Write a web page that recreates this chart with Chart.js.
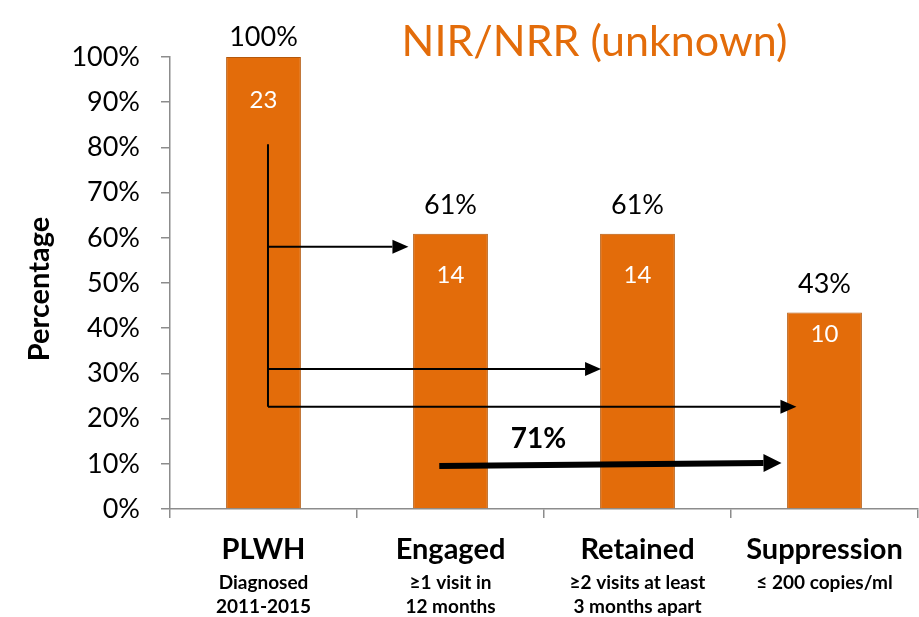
<!DOCTYPE html>
<html>
<head>
<meta charset="utf-8">
<script src="https://cdn.jsdelivr.net/npm/chart.js@4.4.1/dist/chart.umd.min.js"></script>
<style>
  html, body { margin: 0; padding: 0; background: #fff; }
  #wrap { width: 919px; height: 617px; }
</style>
</head>
<body>
<div id="wrap"><canvas id="myChart" width="919" height="617"></canvas></div>
<script>
// Chart data
const categories = ["PLWH", "Engaged", "Retained", "Suppression"];
const subLabels = [
  ["Diagnosed", "2011-2015"],
  ["\u22651 visit in", "12 months"],
  ["\u22652 visits at least", "3 months apart"],
  ["\u2264 200 copies/ml"]
];
const percentages = [100, 60.9, 60.9, 43.5];
const pctLabels = ["100%", "61%", "61%", "43%"];
const counts = [23, 14, 14, 10];
const yTicks = [0, 10, 20, 30, 40, 50, 60, 70, 80, 90, 100];
const chartTitle = "NIR/NRR (unknown)";
const overallLabel = "71%";

const orange = "#E36C0A";
const axisGray = "#8C8C8C";
const fontFam = "Lato, 'Liberation Sans', sans-serif";

// Arrows in data units (x: category index, y: percent)
const bracket = { x: 0.024, top: 80.7, bottom: 22.6 };
const thinArrows = [
  { y: 58.0, to: 0.775 },
  { y: 31.0, to: 1.805 },
  { y: 22.6, to: 2.85 }
];
const boldArrow = { x1: 0.94, y1: 9.5, x2: 2.77, y2: 10.2 };
// offset of the white count label below each bar top
const countOffsets = [43, 42, 42, 22];

function arrow(ctx, x1, y1, x2, y2, lw, hl, hw) {
  const ang = Math.atan2(y2 - y1, x2 - x1);
  const bx = x2 - hl * Math.cos(ang), by = y2 - hl * Math.sin(ang);
  ctx.beginPath();
  ctx.lineWidth = lw;
  ctx.moveTo(x1, y1);
  ctx.lineTo(bx, by);
  ctx.stroke();
  ctx.beginPath();
  ctx.moveTo(x2, y2);
  ctx.lineTo(bx + hw / 2 * Math.sin(ang), by - hw / 2 * Math.cos(ang));
  ctx.lineTo(bx - hw / 2 * Math.sin(ang), by + hw / 2 * Math.cos(ang));
  ctx.closePath();
  ctx.fill();
}

const overlay = {
  id: "overlay",
  afterDatasetsDraw(chart) {
    const ctx = chart.ctx;
    const xs = chart.scales.x, ys = chart.scales.y;
    const meta = chart.getDatasetMeta(0);
    ctx.save();
    ctx.textAlign = "center";
    ctx.textBaseline = "middle";

    // value labels
    meta.data.forEach((bar, i) => {
      ctx.fillStyle = "#000";
      ctx.font = "27px " + fontFam;
      ctx.fillText(pctLabels[i], bar.x, Math.max(bar.y - 28, 37));
      ctx.fillStyle = "#fff";
      ctx.font = "24px " + fontFam;
      ctx.fillText(String(counts[i]), bar.x, bar.y + countOffsets[i]);
    });

    // category labels
    categories.forEach((c, i) => {
      const x = xs.getPixelForValue(i);
      ctx.fillStyle = "#000";
      ctx.font = "bold 29px " + fontFam;
      ctx.fillText(c, x, chart.chartArea.bottom + 41);
      ctx.font = "bold 19px " + fontFam;
      subLabels[i].forEach((s, j) => {
        ctx.fillText(s, x, chart.chartArea.bottom + 74 + j * 24);
      });
    });

    // title
    ctx.fillStyle = orange;
    ctx.font = "43px " + fontFam;
    ctx.fillText(chartTitle, xs.getPixelForValue(1.77), 42);

    // y axis title
    ctx.save();
    ctx.translate(40, 289);
    ctx.rotate(-Math.PI / 2);
    ctx.fillStyle = "#000";
    ctx.font = "bold 29px " + fontFam;
    ctx.fillText("Percentage", 0, 0);
    ctx.restore();

    // arrows
    ctx.strokeStyle = "#000";
    ctx.fillStyle = "#000";
    const bx = xs.getPixelForValue(bracket.x);
    ctx.lineWidth = 2;
    ctx.beginPath();
    ctx.moveTo(bx, ys.getPixelForValue(bracket.top));
    ctx.lineTo(bx, ys.getPixelForValue(bracket.bottom));
    ctx.stroke();
    thinArrows.forEach(a => {
      const y = ys.getPixelForValue(a.y);
      arrow(ctx, bx, y, xs.getPixelForValue(a.to), y, 2, 16, 14);
    });
    arrow(ctx,
      xs.getPixelForValue(boldArrow.x1), ys.getPixelForValue(boldArrow.y1),
      xs.getPixelForValue(boldArrow.x2), ys.getPixelForValue(boldArrow.y2),
      6, 18, 18);
    ctx.font = "bold 28px " + fontFam;
    ctx.fillText(overallLabel, xs.getPixelForValue(1.47), ys.getPixelForValue(15.6));
    ctx.restore();
  }
};

const ctx = document.getElementById("myChart").getContext("2d");
new Chart(ctx, {
  type: "bar",
  data: {
    labels: categories,
    datasets: [{
      data: percentages,
      backgroundColor: orange,
      borderColor: "#B4580C",
      borderWidth: 1,
      categoryPercentage: 1,
      barPercentage: 0.4
    }]
  },
  options: {
    responsive: false,
    animation: false,
    layout: { padding: { top: 57, right: 1, left: 0, bottom: 0 } },
    plugins: { legend: { display: false }, tooltip: { enabled: false }, title: { display: false } },
    scales: {
      x: {
        grid: { drawOnChartArea: false, drawTicks: true, tickLength: 9, color: axisGray, lineWidth: 1.5 },
        border: { color: axisGray, width: 1.5 },
        ticks: { display: false },
        afterFit(scale) { scale.height = 108; }
      },
      y: {
        min: 0,
        max: 100,
        afterBuildTicks(scale) { scale.ticks = yTicks.map(v => ({ value: v })); },
        grid: { drawOnChartArea: false, drawTicks: true, tickLength: 9, color: axisGray, lineWidth: 1.5 },
        border: { color: axisGray, width: 1.5 },
        ticks: {
          color: "#000",
          padding: 21,
          font: { family: fontFam, size: 27 },
          callback: v => v + "%"
        },
        afterFit(scale) { scale.width = 170; }
      }
    }
  },
  plugins: [overlay]
});
</script>
</body>
</html>
